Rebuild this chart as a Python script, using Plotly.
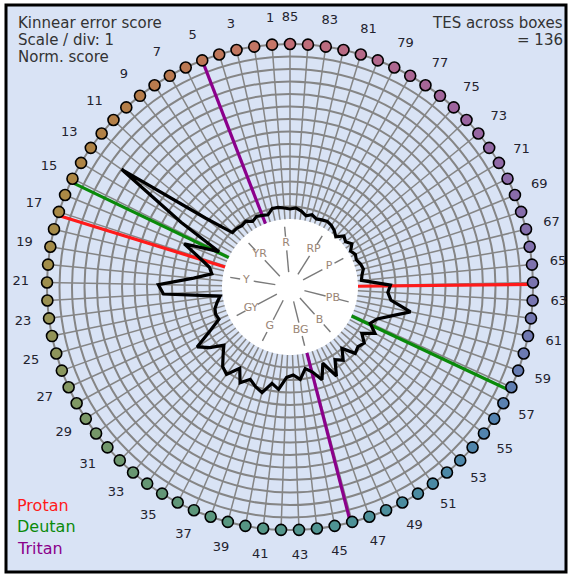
import plotly.graph_objects as go

# ---- data -------------------------------------------------------------
caps = list(range(1, 86))

# normalised Kinnear error score for caps 1..85
error_score = [
    0.9, 1.0, 1.0, 0.6, 0.7, 0.8, 0.6, 0.9, 0.8, 0.9,      # 1-10
    0.9, 3.3, 11.0, 4.7, 0.9, 3.7, 2.2, 1.2, 0.9, 2.3,     # 11-20
    5.1, 4.7, 0.2, 0.5, 0.8, 0.9, 0.8, 1.8, 3.4, 2.6,      # 21-30
    1.6, 2.2, 2.9, 3.2, 2.2, 3.2, 2.6, 3.0, 3.3, 2.4,      # 31-40
    2.8, 1.8, 1.6, 2.0, 1.2, 1.6, 2.4, 1.2, 2.6, 1.4,      # 41-50
    1.8, 1.0, 2.0, 1.8, 2.0, 1.4, 2.3, 1.6, 2.0, 3.0,      # 51-60
    4.4, 2.7, 2.4, 2.6, 0.3, 0.4, 0.6, 0.5, 0.3, 0.4,      # 61-70
    0.2, 0.6, 0.3, 0.5, 0.0, 0.3, 0.5, 0.6, 0.5, 0.4,      # 71-80
    0.6, 0.4, 0.7, 0.9, 0.8,                               # 81-85
]

label_caps = list(range(1, 86, 2))

# confusion axes: cap positions of the two arms
axis_names = ["Protan", "Deutan", "Tritan"]
axis_caps = [[17.2, 63.9], [15.2, 57.8], [5.0, 45.9]]
axis_colors = ["#ff1a1a", "#0a8a0a", "#8b008b"]

hue_names = ["R", "YR", "Y", "GY", "G", "BG", "B", "PB", "P", "RP"]
hue_caps = [1.2, 10.2, 19.1, 27.9, 36.1, 45.8, 52.4, 60.4, 70.4, 77.4]

tes_total = 136
scale_per_div = 1
n_rings = 14

header_left = ["Kinnear error score", "Scale / div: {}".format(scale_per_div), "Norm. score"]
header_right = ["TES across boxes", "= {}".format(tes_total)]

# cap colour stops (cap number, rgb)
color_stops = [
    (1, (198, 118, 104)), (5, (188, 118, 86)), (9, (182, 124, 74)),
    (15, (172, 134, 68)), (20, (162, 142, 74)), (24, (146, 147, 88)),
    (28, (128, 152, 100)), (33, (104, 150, 113)), (39, (88, 151, 128)),
    (45, (78, 147, 148)), (51, (74, 137, 164)), (56, (84, 131, 176)),
    (60, (108, 122, 178)), (65, (126, 114, 174)), (70, (140, 106, 168)),
    (75, (158, 100, 158)), (80, (178, 104, 140)), (85, (194, 110, 118)),
]

# ---- geometry / style -------------------------------------------------
W, H = 569, 576
CX, CY = 290, 287          # centre of the dial (px)
PX_PER_UNIT = 12.5
INNER_PX = 68              # radius of the white hub
R_MIN = -INNER_PX / PX_PER_UNIT
R_MAX = 16.2
R_LABEL = 16.1
STEP = 360.0 / 85
BG = "#d9e3f5"
GRID = "#858585"
FONT = "DejaVu Sans"


def theta(cap):
    return cap * STEP


def cap_color(k):
    for (a, ca), (b, cb) in zip(color_stops[:-1], color_stops[1:]):
        if a <= k <= b:
            t = (k - a) / (b - a) if b > a else 0
            rgb = [round(ca[i] + (cb[i] - ca[i]) * t) for i in range(3)]
            return "rgb({},{},{})".format(*rgb)
    return "rgb({},{},{})".format(*color_stops[-1][1])


fig = go.Figure()

# white hub
hub_theta = [i * 2.0 for i in range(181)]
fig.add_trace(go.Scatterpolar(
    r=[0] * len(hub_theta), theta=hub_theta, mode="lines",
    fill="toself", fillcolor="white", line=dict(width=0, color="white"),
    hoverinfo="skip", showlegend=False))

# spokes, one per cap
sp_r, sp_t = [], []
for k in caps:
    sp_r += [0, n_rings, None]
    sp_t += [theta(k), theta(k), None]
fig.add_trace(go.Scatterpolar(
    r=sp_r, theta=sp_t, mode="lines", line=dict(color=GRID, width=1.5),
    hoverinfo="skip", showlegend=False))

# hue direction ticks inside the hub
hr, ht = [], []
for hc in hue_caps:
    hr += [-4.25, -2.5, None, -1.4, -0.6, None]
    ht += [theta(hc)] * 2 + [None] + [theta(hc)] * 2 + [None]
fig.add_trace(go.Scatterpolar(
    r=hr, theta=ht, mode="lines", line=dict(color="#7a7a7a", width=1.4),
    hoverinfo="skip", showlegend=False))
fig.add_trace(go.Scatterpolar(
    r=[-1.9] * len(hue_names), theta=[theta(h) for h in hue_caps],
    mode="text", text=hue_names,
    textfont=dict(family=FONT, size=11, color="#9a8576"),
    hoverinfo="skip", showlegend=False))

# confusion axes
for name, pair, col in zip(axis_names, axis_caps, axis_colors):
    for c in pair:
        fig.add_trace(go.Scatterpolar(
            r=[0, n_rings], theta=[theta(c), theta(c)], mode="lines",
            line=dict(color=col, width=3.2), hoverinfo="skip",
            showlegend=False))

# error score polygon
fig.add_trace(go.Scatterpolar(
    r=error_score + [error_score[0]],
    theta=[theta(k) for k in caps] + [theta(caps[0])],
    mode="lines", line=dict(color="black", width=3.2),
    hoverinfo="skip", showlegend=False))

# caps
fig.add_trace(go.Scatterpolar(
    r=[n_rings] * len(caps), theta=[theta(k) for k in caps],
    mode="markers",
    marker=dict(size=11, color=[cap_color(k) for k in caps],
                line=dict(color="black", width=1.6)),
    hoverinfo="skip", showlegend=False))

# cap numbers
fig.add_trace(go.Scatterpolar(
    r=[R_LABEL] * len(label_caps), theta=[theta(k) for k in label_caps],
    mode="text", text=[str(k) for k in label_caps],
    textfont=dict(family=FONT, size=13, color="#22222e"),
    hoverinfo="skip", showlegend=False, cliponaxis=False))

annotations = []
for i, line in enumerate(header_left):
    annotations.append(dict(
        xref="paper", yref="paper", x=16 / W, y=1 - (23 + 17 * i) / H,
        xanchor="left", yanchor="middle", showarrow=False, text=line,
        font=dict(family=FONT, size=15, color="#333")))
for i, line in enumerate(header_right):
    annotations.append(dict(
        xref="paper", yref="paper", x=565 / W, y=1 - (23 + 17 * i) / H,
        xanchor="right", yanchor="middle", showarrow=False, text=line,
        font=dict(family=FONT, size=15, color="#333")))
for name, col, yy in zip(axis_names, axis_colors, [505, 526, 548]):
    annotations.append(dict(
        xref="paper", yref="paper", x=15 / W, y=1 - yy / H,
        xanchor="left", yanchor="middle", showarrow=False, text=name,
        font=dict(family=FONT, size=16, color=col)))

R_PX = (R_MAX - R_MIN) * PX_PER_UNIT
fig.update_layout(
    width=W, height=H, margin=dict(l=0, r=0, t=0, b=0),
    paper_bgcolor="white",
    polar=dict(
        domain=dict(x=[(CX - R_PX) / W, (CX + R_PX) / W],
                    y=[(H - CY - R_PX) / H, (H - CY + R_PX) / H]),
        bgcolor="rgba(0,0,0,0)",
        hole=0,
        radialaxis=dict(range=[R_MIN, R_MAX], tickvals=list(range(1, n_rings + 1)),
                        showticklabels=False, ticks="", showline=False,
                        gridcolor=GRID, gridwidth=1.5, layer="below traces"),
        angularaxis=dict(rotation=90, direction="counterclockwise",
                         showgrid=False, showline=False, ticks="",
                         showticklabels=False, layer="below traces"),
    ),
    shapes=[dict(type="rect", xref="paper", yref="paper",
                 x0=6 / W, x1=566 / W, y0=1 - 572 / H, y1=1 - 5 / H,
                 fillcolor=BG, line=dict(color="black", width=3),
                 layer="below")],
    annotations=annotations,
)

fig.write_html("out.html")
